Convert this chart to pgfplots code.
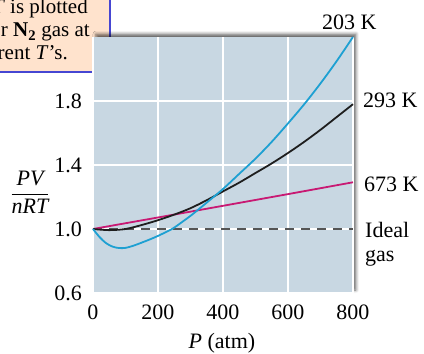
\documentclass[border=0pt]{standalone}
\usepackage{fontspec}
\setmainfont{Liberation Serif}
\usepackage{pgfplots}
\pgfplotsset{compat=1.18}
\usetikzlibrary{shadows.blur}
\definecolor{bgc}{RGB}{200,215,226}
\definecolor{cblue}{RGB}{30,160,210}
\definecolor{cmag}{RGB}{200,25,115}
\definecolor{cblack}{RGB}{30,30,30}
\definecolor{cdash}{RGB}{85,85,85}
\definecolor{peach}{RGB}{255,227,205}
\definecolor{boxblue}{RGB}{70,70,210}
\begin{document}
\begin{tikzpicture}[font=\fontsize{22}{26}\selectfont]
\useasboundingbox (-93pt,-61pt) rectangle (331pt,293pt);
\begin{scope}
\clip (-93pt,-61pt) rectangle (331pt,293pt);
\draw[fill=peach, draw=boxblue, line width=1.4pt] (-140pt,221pt) rectangle (17pt,310pt);
\node[anchor=base east, inner sep=0pt, font=\fontsize{21}{24}\selectfont] at (-5pt,279pt) {\textit{PV}/\textit{nRT} is plotted};
\node[anchor=base east, inner sep=0pt, font=\fontsize{21}{24}\selectfont] at (-3pt,256pt) {for \textbf{N}\textsubscript{\textbf{2}} gas at};
\node[anchor=base east, inner sep=0pt, font=\fontsize{21}{24}\selectfont] at (-25pt,233pt) {different \textit{T}'s.};
\end{scope}
\begin{axis}[
  at={(0pt,0pt)}, anchor=south west,
  scale only axis, width=260pt, height=256pt,
  xmin=0, xmax=800, ymin=0.6, ymax=2.2,
  xtick={0,200,400,600,800},
  ytick={0.6,1.0,1.4,1.8},
  yticklabels={0.6,1.0,1.4,1.8},
  /pgf/number format/assume math mode=true,
  grid=major, grid style={white, line width=1.2pt},
  major tick length=0pt,
  axis line style={draw=none},
  axis background/.style={fill=bgc, blur shadow={shadow xshift=3pt, shadow yshift=3pt, shadow blur radius=3pt, shadow opacity=60}},
  yticklabel style={inner sep=0pt, xshift=-11pt},
  xticklabel style={inner sep=0pt, yshift=-12pt},
  xlabel={\textit{P} (atm)},
  xlabel style={at={(axis description cs:0.496,0)}, anchor=center, yshift=-50pt, inner sep=0pt},
  ylabel={$\displaystyle\frac{\textit{PV}}{\textit{nRT}}$},
  ylabel style={at={(axis description cs:-0.242,0.394)}, anchor=center, rotate=-90, inner sep=0pt},
  clip=false,
]
\addplot[cdash, line width=1.5pt, dash pattern=on 9pt off 7pt] coordinates {(0,1.0) (800,1.0)};
\addplot[cmag, line width=1.8pt] coordinates {(0,1.0) (200,1.072) (400,1.145) (600,1.218) (800,1.292)};
\addplot[cblack, line width=1.8pt, smooth] coordinates {
(0,1.0) (50,0.993) (100,1.0) (150,1.025) (200,1.055) (250,1.09) (300,1.13) (350,1.18) (400,1.235) (450,1.29) (500,1.35) (550,1.41) (600,1.475) (650,1.545) (700,1.62) (750,1.70) (800,1.78)};
\addplot[cblue, line width=1.8pt, smooth] coordinates {
(0,1.0) (20,0.95) (40,0.912) (60,0.89) (80,0.881) (100,0.882) (125,0.896) (150,0.915) (175,0.935) (200,0.957) (243,1.0) (275,1.045) (305,1.09) (350,1.165) (400,1.25) (450,1.345) (500,1.44) (550,1.545) (600,1.66) (650,1.78) (700,1.91) (750,2.05) (800,2.20)};
\end{axis}
\node[anchor=base west, inner sep=0pt] at (229pt,263pt) {203 K};
\node[anchor=base west, inner sep=0pt] at (270pt,185pt) {293 K};
\node[anchor=base west, inner sep=0pt] at (271pt,101pt) {673 K};
\node[anchor=base west, inner sep=0pt] at (272pt,55pt) {Ideal};
\node[anchor=base west, inner sep=0pt] at (272pt,31pt) {gas};
\end{tikzpicture}
\end{document}
